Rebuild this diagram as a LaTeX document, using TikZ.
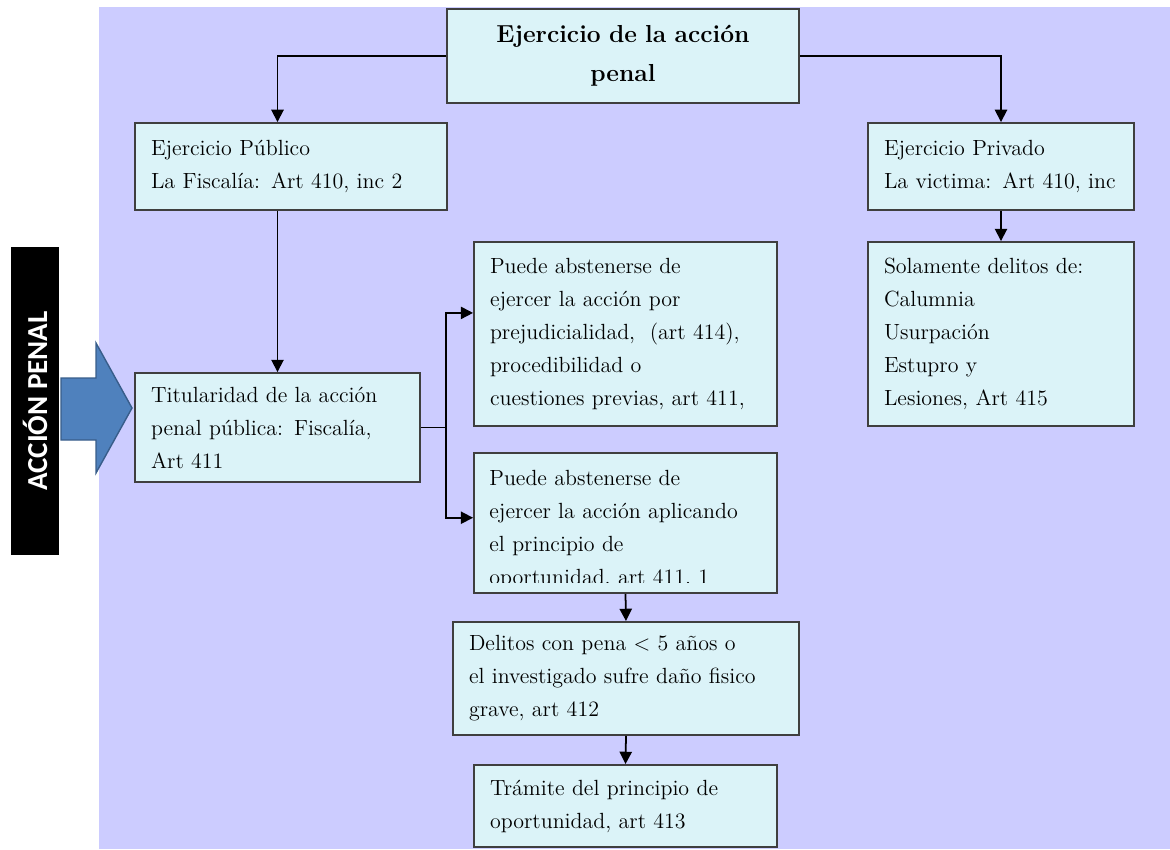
\documentclass[tikz,border=0pt]{standalone}
\usepackage{tikz}
\usetikzlibrary{arrows.meta}
\usepackage{fontspec}
\newfontfamily\sidefont{Carlito}
\usepackage[rgb]{xcolor}
\definecolor{lv}{HTML}{CCCCFF}
\definecolor{cy}{HTML}{DBF3F8}
\definecolor{dk}{HTML}{3F3F3F}
\definecolor{bl}{HTML}{4F81BD}
\definecolor{bd}{HTML}{385D8A}

\begin{document}
\begin{tikzpicture}[x=0.02cm, y=-0.02cm,
  box/.style={draw=dk, fill=cy, line width=1.1pt, align=left, inner xsep=0.32cm, inner ysep=0pt,
    font=\fontsize{12.5}{18.8}\selectfont},
  boxtext/.style={align=left, inner xsep=0.32cm, inner ysep=0pt,
    font=\fontsize{12.5}{18.8}\selectfont},
  link/.style={draw=black, line width=1pt},
  arr/.style={link, -{Triangle[length=7pt, width=7pt]}}]

  \useasboundingbox (0,0) rectangle (1170,849);
  \fill[lv] (99,7) rectangle (1170,849);

  % side label
  \node[fill=black, text=white, rotate=90, minimum width=6.16cm, minimum height=0.96cm,
    font=\sidefont\bfseries\fontsize{16.5}{18}\selectfont] (barra) at (35,401) {ACCIÓN PENAL};
  \draw[draw=bd, fill=bl, line width=0.8pt] (61,378) -- (96,378) -- (96,343) -- (132,408)
    -- (96,473) -- (96,440) -- (61,440) -- cycle;

  % boxes
  \node[box, align=center, text width=6.4cm, minimum height=1.88cm,
    font=\bfseries\fontsize{14}{22}\selectfont] (titulo) at (623,56) {Ejercicio de la acción\\penal};
  \node[box, text width=5.6cm, minimum height=1.74cm] (publico) at (291,166.5)
    {Ejercicio Público\\La Fiscalía: Art 410, inc 2};
  \node[box, text width=4.68cm, minimum height=1.74cm] (privado) at (1001,166.5)
    {Ejercicio Privado\\La victima: Art 410, inc};
  \node[box, text width=5.06cm, minimum height=2.18cm] (titular) at (277.5,427.5)
    {Titularidad de la acción\\penal pública: Fiscalía,\\Art 411};
  \node[box, text width=5.42cm, minimum height=3.68cm] (prejud) at (625.5,334)
    {Puede abstenerse de\\ejercer la acción por\\prejudicialidad,~ (art 414),\\procedibilidad o\\cuestiones previas, art 411,};
  \node[box, minimum width=6.06cm, minimum height=2.8cm] (oport) at (625.5,523) {};
  \begin{scope}
    \clip (oport.north west) rectangle ([yshift=0.22cm]oport.south east);
    \node[boxtext, text width=5.42cm, anchor=base west] (oporttxt) at ([yshift=-0.66cm]oport.north west)
      {Puede abstenerse de\\ejercer la acción aplicando\\el principio de\\oportunidad, art 411, 1};
  \end{scope}
  \node[box, text width=6.28cm, minimum height=2.26cm] (delitos) at (626,678.5)
    {Delitos con pena \textless{} 5 años o\\el investigado sufre daño fisico\\grave, art 412};
  \node[box, text width=5.42cm, minimum height=1.64cm] (tramite) at (625.5,806)
    {Trámite del principio de\\oportunidad, art 413};
  \node[box, text width=4.68cm, minimum height=3.68cm] (solamente) at (1001,334)
    {Solamente delitos de:\\Calumnia\\Usurpación\\Estupro y\\Lesiones, Art 415};

  % connectors
  \draw[arr] (titulo.west) -| (publico.north -| titular.north);
  \draw[arr] (titulo.east) -| (privado.north);
  \draw[arr] (publico.south -| titular.north) -- (titular.north);
  \draw[arr] (privado.south) -- (solamente.north);
  \coordinate (split) at (446,427.5);
  \draw[link] (titular.east) -- (split);
  \draw[arr] (split) |- ([yshift=12pt]prejud.west);
  \draw[arr] (split) |- ([yshift=3pt]oport.west);
  \draw[arr] (oport.south) -- (delitos.north);
  \draw[arr] (delitos.south) -- (tramite.north);

\end{tikzpicture}
\end{document}
